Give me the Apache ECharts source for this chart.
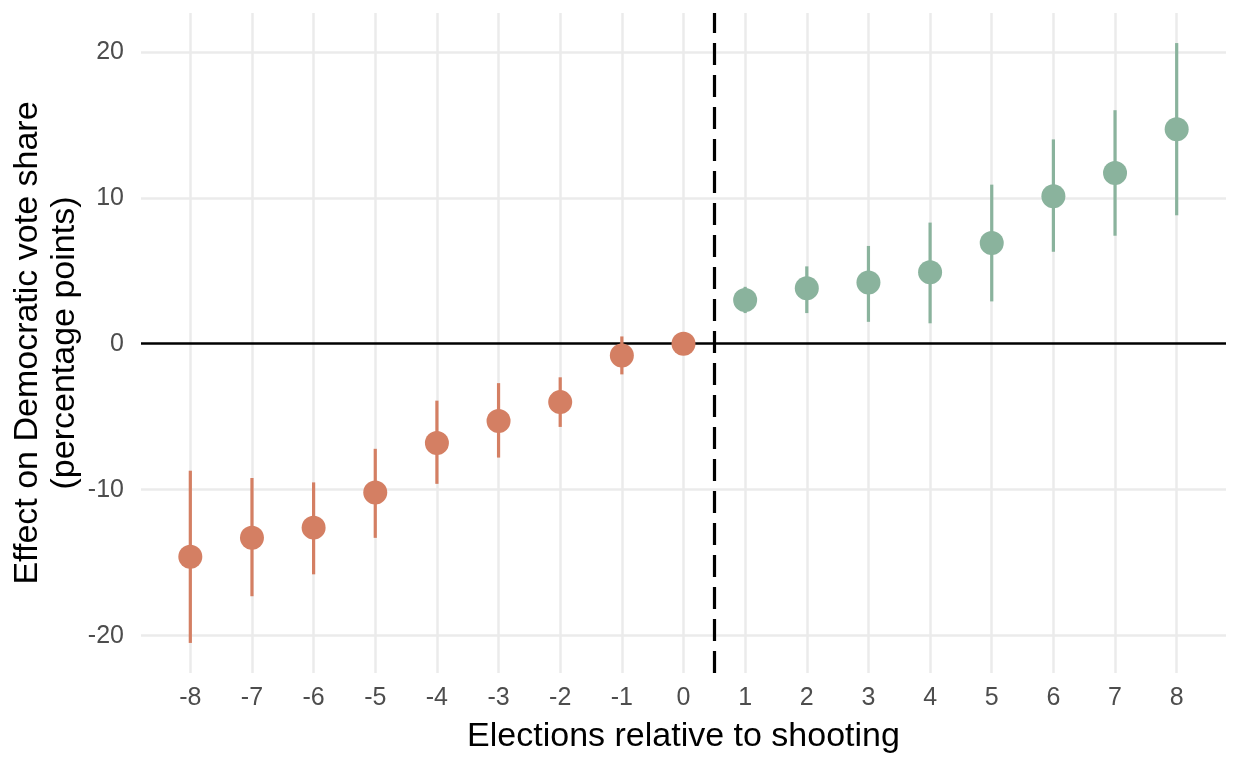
<!DOCTYPE html>
<html>
<head>
<meta charset="utf-8">
<script src="https://cdn.jsdelivr.net/npm/echarts@6/dist/echarts.min.js"></script>
<style>
html,body{margin:0;padding:0;background:#fff;}
#chart{width:1240px;height:758px;}
</style>
</head>
<body>
<div id="chart"></div>
<script>
// Elections relative to shooting
const periods = [-8,-7,-6,-5,-4,-3,-2,-1,0,1,2,3,4,5,6,7,8];
const estimates = [-14.6,-13.3,-12.6,-10.2,-6.8,-5.3,-4.0,-0.8,0.0,3.0,3.8,4.2,4.9,6.9,10.1,11.7,14.7];
const lowerCI = [-20.5,-17.3,-15.8,-13.3,-9.6,-7.8,-5.7,-2.1,null,2.1,2.1,1.5,1.4,2.9,6.3,7.4,8.8];
const upperCI = [-8.7,-9.2,-9.5,-7.2,-3.9,-2.7,-2.3,0.5,null,3.9,5.3,6.7,8.3,10.9,14.0,16.0,20.6];
const xTicks = [-8,-7,-6,-5,-4,-3,-2,-1,0,1,2,3,4,5,6,7,8];
const yTicks = [-20,-10,10,20];
const yLabels = [-20,-10,0,10,20];
const treatmentLine = 0.5;

const preColor = '#D47F63';
const postColor = '#8AB39D';
const font = 'Liberation Sans, Arial, Helvetica, sans-serif';

const pre = [], post = [], bars = [];
periods.forEach((p, i) => {
  if (p <= 0) pre.push([p, estimates[i]]); else post.push([p, estimates[i]]);
  if (lowerCI[i] !== null) bars.push([p, lowerCI[i], upperCI[i]]);
});

const chart = echarts.init(document.getElementById('chart'));
chart.setOption({
  animation: false,
  backgroundColor: '#fff',
  grid: {left: 141, right: 14, top: 13, bottom: 85, containLabel: false, outerBoundsMode: 'none'},
  xAxis: {
    type: 'value', min: -8.8, max: 8.8,
    axisLine: {show: false}, axisTick: {show: false}, splitLine: {show: false},
    axisLabel: {customValues: xTicks, color: '#4D4D4D', fontSize: 25, fontFamily: font, margin: 13},
    name: 'Elections relative to shooting', nameLocation: 'middle', nameGap: 47, nameMoveOverlap: false,
    nameTextStyle: {color: '#000', fontSize: 34, fontFamily: font}
  },
  yAxis: {
    type: 'value', min: -22.56, max: 22.66,
    axisLine: {show: false}, axisTick: {show: false}, splitLine: {show: false},
    axisLabel: {customValues: yLabels, color: '#4D4D4D', fontSize: 25, fontFamily: font, margin: 17},
    name: 'Effect on Democratic vote share\n(percentage points)', nameLocation: 'middle', nameGap: 58, nameMoveOverlap: false,
    nameTextStyle: {color: '#000', fontSize: 34, fontFamily: font, lineHeight: 37, align: 'center'}
  },
  series: [
    {
      type: 'line', data: [], silent: true, z: 1,
      markLine: {
        silent: true, symbol: 'none', animation: false, z: 1,
        label: {show: false},
        lineStyle: {color: '#EBEBEB', width: 2.5, type: 'solid'},
        data: xTicks.map(v => ({xAxis: v})).concat(yTicks.map(v => ({yAxis: v})))
      }
    },
    {
      type: 'line', data: [], silent: true, z: 2,
      markLine: {
        silent: true, symbol: 'none', animation: false, z: 2,
        label: {show: false},
        data: [
          {yAxis: 0, lineStyle: {color: '#000', width: 2.5, type: 'solid'}},
          {xAxis: treatmentLine, lineStyle: {color: '#000', width: 3.2, type: [22, 10]}}
        ]
      }
    },
    {
      type: 'custom', z: 3, silent: true,
      data: bars,
      renderItem: function (params, api) {
        const x = api.value(0);
        const a = api.coord([x, api.value(1)]);
        const b = api.coord([x, api.value(2)]);
        return {
          type: 'line',
          shape: {x1: a[0], y1: a[1], x2: b[0], y2: b[1]},
          style: {stroke: x <= 0 ? preColor : postColor, lineWidth: 3.2}
        };
      }
    },
    {type: 'scatter', z: 4, data: pre, symbolSize: 24, itemStyle: {color: preColor, opacity: 1}},
    {type: 'scatter', z: 4, data: post, symbolSize: 24, itemStyle: {color: postColor, opacity: 1}}
  ]
});
</script>
</body>
</html>
